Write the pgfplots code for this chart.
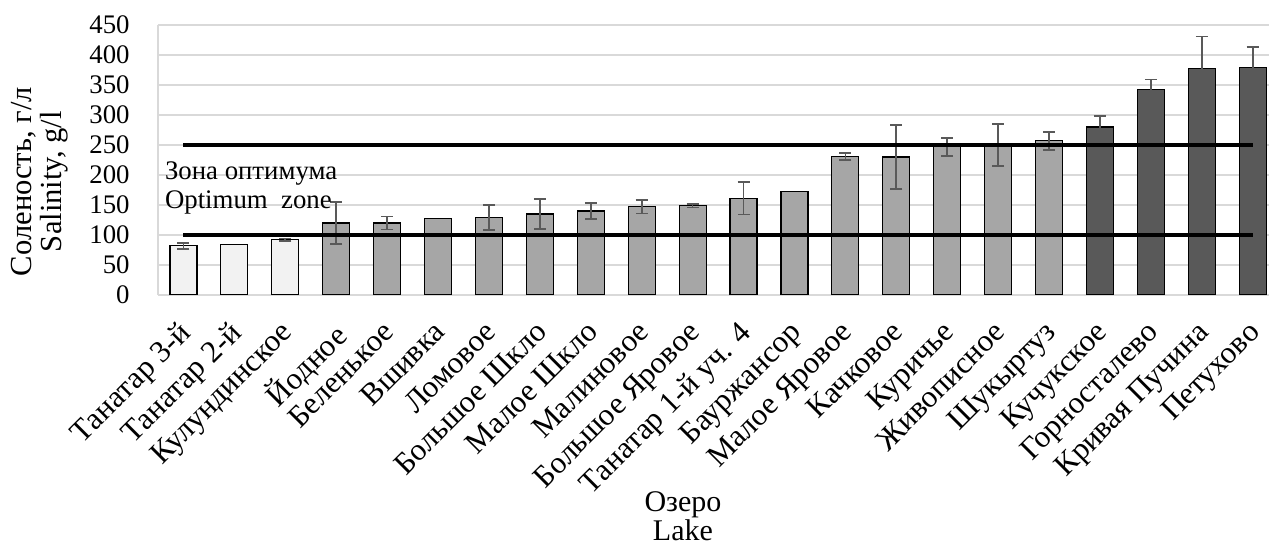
\documentclass[border=0pt]{standalone}
\usepackage{pgfplots}
\pgfplotsset{compat=1.18}
\usepackage{fontspec}
\setmainfont{Liberation Serif}

\definecolor{barlight}{HTML}{F2F2F2}
\definecolor{barmid}{HTML}{A6A6A6}
\definecolor{bardark}{HTML}{595959}
\definecolor{errgray}{HTML}{595959}
\definecolor{gridgray}{HTML}{D9D9D9}

\pgfplotsset{
  plainbar/.style={ybar, bar width=13.5pt, bar shift=0pt, draw=black, line width=0.6pt},
  mybar/.style={plainbar,
    error bars/y dir=both, error bars/y explicit,
    error bars/error bar style={errgray, line width=0.8pt},
    error bars/error mark options={rotate=90, errgray, line width=0.8pt, mark size=3pt}},
}

\begin{document}
\begin{tikzpicture}
\begin{axis}[
  at={(0pt,0pt)}, anchor=south west,
  scale only axis, width=555.5pt, height=135pt,
  xmin=-0.5, xmax=21.32, ymin=0, ymax=450,
  ytick={0,50,...,450},
  xtick={0,...,21},
  xticklabels={Танатар 3-й, Танатар 2-й, Кулундинское, Йодное, Беленькое, Вшивка,
    Ломовое, Большое Шкло, Малое Шкло, Малиновое, Большое Яровое, Танатар 1-й уч. 4,
    Бауржансор, Малое Яровое, Качковое, Куричье, Живописное, Шукыртуз, Кучукское,
    Горносталево, Кривая Пучина, Петухово},
  axis x line*=bottom, axis y line*=left,
  axis line style={gridgray, line width=0.75pt, -},
  ymajorgrids, grid style={gridgray, line width=0.75pt},
  major tick length=0pt,
  yticklabel style={font=\fontsize{13.4}{13.4}\selectfont, anchor=east, inner sep=0pt, xshift=-14pt},
  /pgf/number format/assume math mode=true,
  xticklabel style={font=\fontsize{15.5}{15.5}\selectfont, inner sep=0pt,
    xshift=-3pt, yshift=-12pt, rotate=45, anchor=north east},
  xlabel={Озеро\\Lake},
  xlabel style={align=center, font=\fontsize{15}{14.5}\selectfont,
    at={(axis description cs:0.4725,-0.8185)}, anchor=center},
  ylabel={Соленость, г/л\\Salinity, g/l},
  ylabel style={align=center, font=\fontsize{15.3}{15}\selectfont,
    at={(axis description cs:-0.1062,0.42)}, anchor=center},
]
% bars with error bars
\addplot[mybar, fill=barlight] table[x=x, y=y, y error=e] {
x y e
0 82 5
2 92 2
};
\addplot[mybar, fill=barmid] table[x=x, y=y, y error=e] {
x y e
3 120 35
4 120 11
6 129 21
7 135 25
8 140 13
9 147 11
10 149 3
11 161 27
13 231 6
14 230 53
15 247 15
16 250 35
17 257 15
};
\addplot[mybar, fill=bardark] table[x=x, y=y, y error=e] {
x y e
18 280 18
19 343 16
20 377 54
21 379 34
};
% bars without error bars
\addplot[plainbar, fill=barlight] table[x=x, y=y] {
x y
1 84.5
};
\addplot[plainbar, fill=barmid] table[x=x, y=y] {
x y
5 128
12 173
};
% optimum zone limits
\addplot[black, line width=2pt, mark=none] coordinates {(0,250) (21,250)};
\addplot[black, line width=2pt, mark=none] coordinates {(0,100) (21,100)};
\node[anchor=west, inner sep=0pt, font=\fontsize{13.4}{13.4}\selectfont] at (axis cs:-0.37,203) {Зона оптимума};
\node[anchor=west, inner sep=0pt, font=\fontsize{13.4}{13.4}\selectfont] at (axis cs:-0.37,155) {Optimum\ \ zone};
\end{axis}
\pgfresetboundingbox
\useasboundingbox (-79pt,-124.5pt) rectangle (555.5pt,147.5pt);
\end{tikzpicture}
\end{document}
